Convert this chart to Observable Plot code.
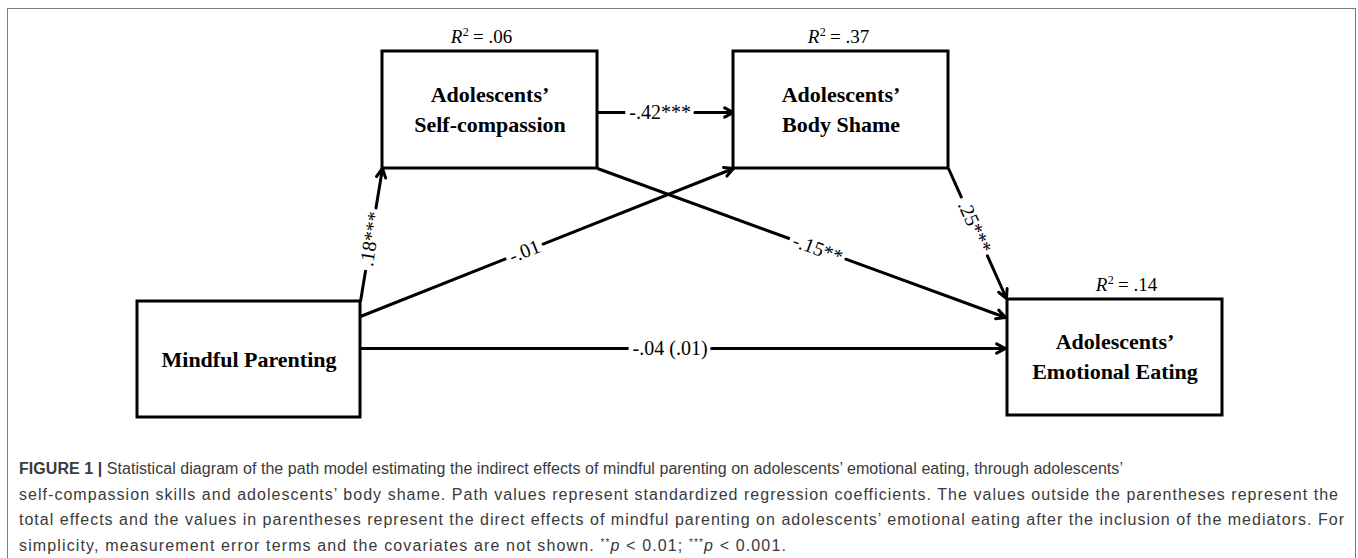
<!DOCTYPE html>
<html><head><meta charset="utf-8">
<script src="https://cdn.jsdelivr.net/npm/d3@7"></script>
<script src="https://cdn.jsdelivr.net/npm/@observablehq/plot@0.6"></script>
<style>
html,body{margin:0;padding:0;background:#fff;overflow:hidden;width:1358px;height:558px;}
#frame{position:absolute;left:7px;top:8px;width:1349px;height:600px;border:1.5px solid #7a7a7a;box-sizing:border-box;}
#chart{position:absolute;left:0;top:0;}
#caption{position:absolute;left:19px;top:456px;font-family:"Liberation Sans",Arial,sans-serif;font-size:16px;line-height:25.7px;color:#3a3a3a;white-space:nowrap;}
#caption div{height:25.7px;}
#caption span.ln{display:inline-block;}
#caption sup{font-size:10px;vertical-align:5px;line-height:0;}
</style></head><body>
<div id="frame"></div>
<div id="chart"></div>
<div id="caption"></div>
<script>
// ---- data ----
const nodeNames = ["Mindful Parenting", "Adolescents’ Self-compassion", "Adolescents’ Body Shame", "Adolescents’ Emotional Eating"];
const nodeLines = [["Mindful Parenting"], ["Adolescents’", "Self-compassion"], ["Adolescents’", "Body Shame"], ["Adolescents’", "Emotional Eating"]];
const r2Values = [null, ".06", ".37", ".14"];
const pathFrom = [0, 0, 0, 1, 1, 2];
const pathTo = [1, 2, 3, 2, 3, 3];
const pathLabels = [".18***", "-.01", "-.04 (.01)", "-.42***", "-.15**", ".25***"];
const captionLines = [
  "<b>FIGURE 1 |</b> Statistical diagram of the path model estimating the indirect effects of mindful parenting on adolescents’ emotional eating, through adolescents’",
  "self-compassion skills and adolescents’ body shame. Path values represent standardized regression coefficients. The values outside the parentheses represent the",
  "total effects and the values in parentheses represent the direct effects of mindful parenting on adolescents’ emotional eating after the inclusion of the mediators. For",
  "simplicity, measurement error terms and the covariates are not shown. <sup>**</sup><i>p</i> &lt; 0.01; <sup>***</sup><i>p</i> &lt; 0.001."
];

// ---- layout (diagram geometry) ----
const W = 1358, H = 445;
const boxes = [[137, 301, 360, 417], [382, 51, 597, 168], [733, 51, 948, 168], [1007, 299, 1222, 415]];
const r2Center = [null, 481, 838, 1126];
const pathEnds = [[360, 301, 382, 168], [360, 316, 733, 168], [360, 348, 1005, 348], [597, 112, 733, 112], [597, 168, 1005, 317], [948, 168, 1006, 298]];
const labelT = [0.47, 0.44, 0.48, 0.46, 0.54, 0.45];
const captionRight = [1123, 1339, 1345, 787];
const serif = "'Liberation Serif', 'Times New Roman', serif";
const boxFont = 22, pathFont = 20, r2Font = 19, supFont = 12;

const ctx = document.createElement("canvas").getContext("2d");
function tw(s, font) { ctx.font = font; return ctx.measureText(s).width; }

const nodes = nodeNames.map((name, i) => {
  const [x1, y1, x2, y2] = boxes[i];
  return {name, x1, y1, x2, y2, cx: (x1 + x2) / 2, cy: (y1 + y2) / 2 - (nodeLines[i].length > 1 ? 3 : 2), text: nodeLines[i].join("\n")};
});

const r2 = [];
nodes.forEach((n, i) => {
  if (r2Values[i] == null) return;
  const rest = " = " + r2Values[i];
  const wR = tw("R", `italic ${r2Font}px ${serif}`);
  const w2 = tw("2", `${supFont}px ${serif}`);
  const wRest = tw(rest, `${r2Font}px ${serif}`);
  const left = r2Center[i] - (wR + w2 + wRest) / 2;
  const base = n.y1 - 9;
  r2.push({part: "R", text: "R", x: left, y: base});
  r2.push({part: "2", text: "2", x: left + wR + 0.5, y: base - 7});
  r2.push({part: "rest", text: rest, x: left + wR + w2, y: base});
});

const paths = pathLabels.map((label, i) => {
  const [x1, y1, x2, y2] = pathEnds[i];
  const dx = x2 - x1, dy = y2 - y1, L = Math.hypot(dx, dy), ux = dx / L, uy = dy / L;
  const cx = x1 + dx * labelT[i], cy = y1 + dy * labelT[i];
  const half = tw(label, `${pathFont}px ${serif}`) / 2 + 4;
  return {label, from: nodeNames[pathFrom[i]], to: nodeNames[pathTo[i]], x1, y1, x2, y2, cx, cy,
    angle: Math.atan2(dy, dx) * 180 / Math.PI,
    ax: cx - ux * half, ay: cy - uy * half, bx: cx + ux * half, by: cy + uy * half};
});

const chart = Plot.plot({
  width: W, height: H, margin: 0,
  x: {domain: [0, W], range: [0, W], axis: null},
  y: {domain: [0, H], range: [0, H], axis: null},
  style: {background: "transparent", overflow: "visible"},
  marks: [
    Plot.link(paths, {x1: "x1", y1: "y1", x2: "ax", y2: "ay", stroke: "black", strokeWidth: 3}),
    Plot.arrow(paths, {x1: "bx", y1: "by", x2: "x2", y2: "y2", stroke: "black", strokeWidth: 3, headLength: 5, headAngle: 55, bend: 0}),
    Plot.rect(nodes, {x1: "x1", y1: "y1", x2: "x2", y2: "y2", fill: "white", stroke: "black", strokeWidth: 3}),
    Plot.text(nodes, {x: "cx", y: "cy", text: "text", fontSize: boxFont, fontWeight: "bold", fontFamily: serif, lineHeight: 1.36, fill: "black"}),
    Plot.text(paths, {x: "cx", y: "cy", text: "label", rotate: "angle", fontSize: pathFont, fontFamily: serif, fill: "black"}),
    Plot.text(r2.filter(d => d.part === "R"), {x: "x", y: "y", text: "text", textAnchor: "start", lineAnchor: "bottom", fontSize: r2Font, fontStyle: "italic", fontFamily: serif, fill: "black"}),
    Plot.text(r2.filter(d => d.part === "2"), {x: "x", y: "y", text: "text", textAnchor: "start", lineAnchor: "bottom", fontSize: supFont, fontFamily: serif, fill: "black"}),
    Plot.text(r2.filter(d => d.part === "rest"), {x: "x", y: "y", text: "text", textAnchor: "start", lineAnchor: "bottom", fontSize: r2Font, fontFamily: serif, fill: "black"})
  ]
});
document.getElementById("chart").appendChild(chart);

const cap = document.getElementById("caption");
cap.innerHTML = captionLines.map(l => `<div><span class="ln">${l}</span></div>`).join("");
cap.querySelectorAll("span.ln").forEach((s, i) => {
  const natural = s.getBoundingClientRect().width;
  const chars = s.textContent.length;
  const target = captionRight[i] - 19;
  s.style.letterSpacing = ((target - natural) / chars) + "px";
});
</script>
</body></html>
